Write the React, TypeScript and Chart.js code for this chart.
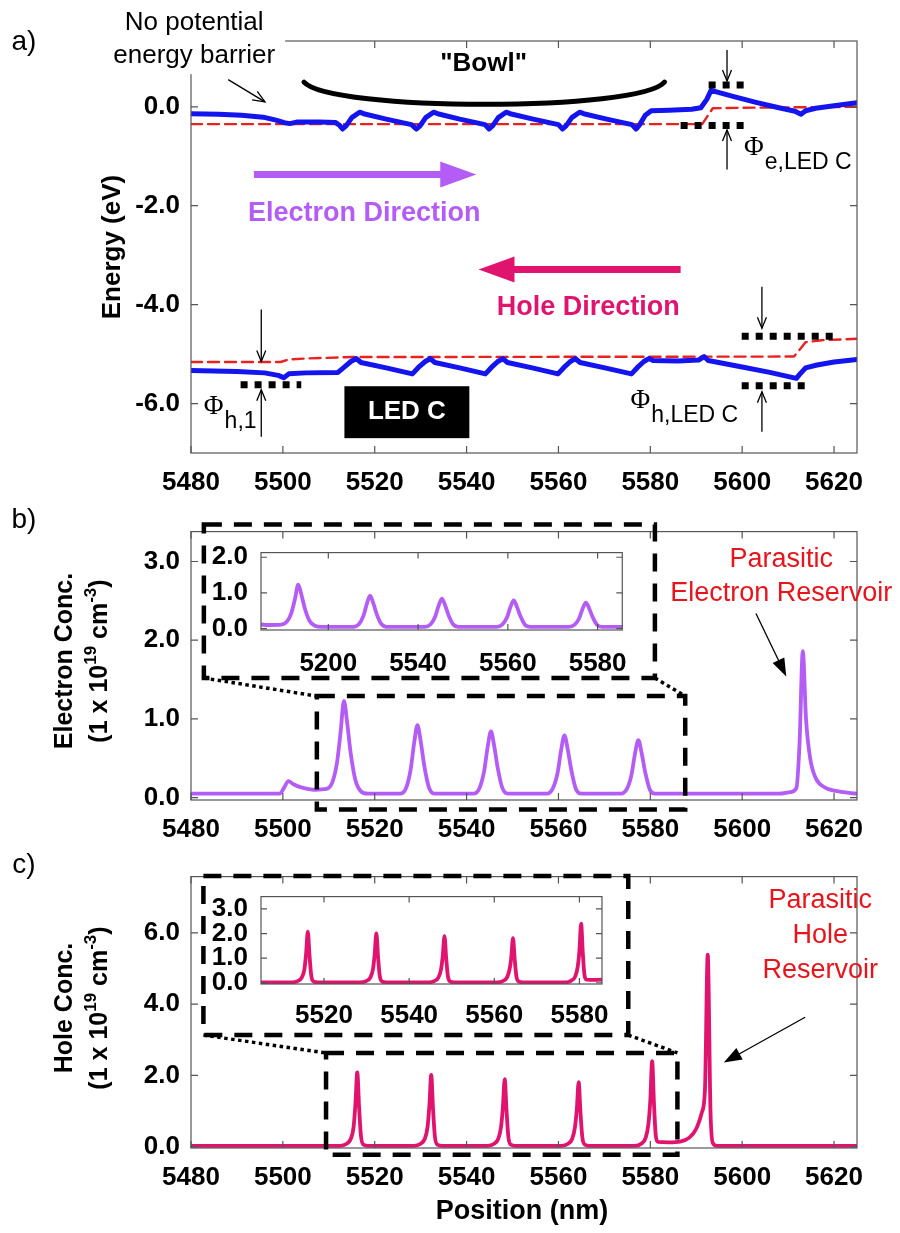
import React, { useEffect, useRef } from "react";
import { Chart, registerables } from "chart.js";

Chart.register(...registerables);

const SANS = '"Liberation Sans", Arial, Helvetica, sans-serif';
const SERIF = '"Liberation Serif", "Times New Roman", serif';

// ---------- tick values / labels ----------
const positionTicks = [5480, 5500, 5520, 5540, 5560, 5580, 5600, 5620];
const energyTicks = [0, -2, -4, -6];
const electronTicks = [0, 1, 2, 3];
const holeTicks = [0, 2, 4, 6];
const electronInsetXTicks = [5520, 5540, 5560, 5580];
const electronInsetXLabels = ["5200", "5540", "5560", "5580"];
const electronInsetYTicks = [0, 1, 2];
const holeInsetXTicks = [5520, 5540, 5560, 5580];
const holeInsetXLabels = ["5520", "5540", "5560", "5580"];
const holeInsetYTicks = [0, 1, 2, 3];

// ---------- panel a: band diagram (nm, eV) ----------
const cbPosition = [5480, 5486, 5491, 5495.7, 5498.5, 5500.3, 5501.5, 5503, 5508, 5511.5, 5512.4, 5513.0, 5513.8, 5515.0, 5516.7, 5517.6, 5522.5, 5528.0, 5529.1, 5529.9, 5531.1, 5532.8, 5533.7, 5538.5, 5544.0, 5544.9, 5545.7, 5546.9, 5548.6, 5549.5, 5554.5, 5560.0, 5560.9, 5561.7, 5562.9, 5564.6, 5565.5, 5570.5, 5576.0, 5576.9, 5577.7, 5578.9, 5580.2, 5584, 5589, 5591, 5592.3, 5593.2, 5598, 5603, 5608, 5611.5, 5612.8, 5613.8, 5616, 5620, 5625];
const cbEnergy = [-0.14, -0.15, -0.17, -0.21, -0.27, -0.32, -0.34, -0.31, -0.31, -0.32, -0.38, -0.45, -0.38, -0.22, -0.11, -0.14, -0.25, -0.36, -0.45, -0.38, -0.22, -0.11, -0.14, -0.25, -0.36, -0.45, -0.38, -0.22, -0.11, -0.14, -0.25, -0.36, -0.45, -0.38, -0.22, -0.11, -0.14, -0.25, -0.36, -0.45, -0.36, -0.17, -0.08, -0.07, -0.05, -0.02, 0.15, 0.33, 0.21, 0.09, -0.02, -0.09, -0.15, -0.08, -0.03, 0.02, 0.08];
const efnPosition = [5480, 5591.3, 5593.6, 5600, 5625];
const efnEnergy = [-0.35, -0.35, -0.03, -0.02, 0.0];
const vbPosition = [5480, 5490, 5496, 5499, 5500.2, 5501.3, 5505, 5512, 5513.3, 5514.8, 5516.0, 5517.0, 5522.5, 5528.2, 5529.5, 5531.0, 5532.1, 5533.1, 5538.5, 5544.1, 5545.4, 5546.8, 5547.9, 5548.9, 5554.3, 5559.9, 5561.2, 5562.6, 5563.7, 5564.7, 5570.1, 5575.9, 5577.2, 5578.6, 5579.7, 5580.6, 5586, 5590.5, 5591.7, 5592.6, 5600, 5606, 5611.8, 5612.6, 5613.8, 5616.3, 5620, 5625];
const vbEnergy = [-5.33, -5.35, -5.38, -5.43, -5.48, -5.40, -5.38, -5.37, -5.27, -5.15, -5.09, -5.17, -5.28, -5.40, -5.27, -5.15, -5.09, -5.17, -5.28, -5.40, -5.27, -5.15, -5.09, -5.17, -5.28, -5.40, -5.27, -5.15, -5.09, -5.17, -5.28, -5.40, -5.27, -5.15, -5.09, -5.13, -5.14, -5.12, -5.05, -5.13, -5.26, -5.37, -5.49, -5.40, -5.28, -5.22, -5.16, -5.11];
const efpPosition = [5480, 5499.5, 5501.2, 5505, 5515, 5611.3, 5613.8, 5617.3, 5625];
const efpEnergy = [-5.16, -5.16, -5.11, -5.09, -5.06, -5.05, -4.76, -4.72, -4.69];

// ---------- panel b: electron concentration (nm, 1e19 cm^-3) ----------
const electronPosition = [5480, 5499.3, 5500.3, 5501.2, 5502.3, 5504, 5507, 5509.5, 5510.8, 5511.8, 5512.6, 5513.3, 5514.0, 5514.8, 5515.8, 5517.0, 5518.5, 5525.5, 5526.8, 5527.8, 5528.6, 5529.3, 5530.0, 5530.8, 5531.8, 5533.0, 5541.5, 5542.8, 5543.8, 5544.6, 5545.3, 5546.0, 5546.8, 5547.8, 5549.0, 5557.5, 5558.8, 5559.8, 5560.6, 5561.3, 5562.0, 5562.8, 5563.8, 5565.0, 5573.6, 5574.9, 5575.9, 5576.7, 5577.4, 5578.1, 5578.9, 5579.9, 5581.0, 5608, 5610.5, 5611.8, 5612.5, 5613.2, 5613.9, 5614.8, 5616, 5618, 5621, 5625];
const electronConc = [0.05, 0.05, 0.13, 0.21, 0.17, 0.13, 0.10, 0.11, 0.2, 0.45, 0.85, 1.23, 0.95, 0.55, 0.22, 0.08, 0.05, 0.05, 0.12, 0.35, 0.7, 0.92, 0.72, 0.4, 0.13, 0.05, 0.05, 0.12, 0.33, 0.65, 0.84, 0.66, 0.37, 0.12, 0.05, 0.05, 0.12, 0.31, 0.61, 0.79, 0.62, 0.35, 0.11, 0.05, 0.05, 0.11, 0.29, 0.57, 0.73, 0.57, 0.32, 0.1, 0.05, 0.05, 0.07, 0.12, 0.7, 1.86, 1.0, 0.5, 0.25, 0.13, 0.08, 0.05];

// ---------- panel c: hole concentration (nm, 1e19 cm^-3) ----------
const holePosition = [5480, 5512.5, 5513.8, 5514.8, 5515.4, 5515.8, 5516.2, 5516.6, 5517.0, 5517.6, 5518.5, 5528.6, 5529.9, 5530.9, 5531.5, 5531.9, 5532.3, 5532.7, 5533.1, 5533.7, 5534.6, 5544.6, 5545.9, 5546.9, 5547.5, 5547.9, 5548.3, 5548.7, 5549.1, 5549.7, 5550.6, 5560.7, 5562.0, 5563.0, 5563.6, 5564.0, 5564.4, 5564.8, 5565.2, 5565.8, 5566.7, 5576.7, 5578.0, 5579.0, 5579.6, 5580.0, 5580.4, 5580.8, 5581.2, 5581.7, 5584, 5586.5, 5588.5, 5590.0, 5591.2, 5591.9, 5592.5, 5593.1, 5593.6, 5594.5, 5625];
const holeConc = [0.02, 0.02, 0.07, 0.22, 0.55, 1.2, 2.08, 1.1, 0.3, 0.05, 0.02, 0.02, 0.07, 0.22, 0.55, 1.15, 2.01, 1.05, 0.28, 0.05, 0.02, 0.02, 0.07, 0.22, 0.55, 1.1, 1.89, 1.0, 0.27, 0.05, 0.02, 0.02, 0.07, 0.22, 0.55, 1.05, 1.81, 0.95, 0.26, 0.05, 0.02, 0.02, 0.08, 0.25, 0.65, 1.3, 2.40, 1.2, 0.3, 0.13, 0.12, 0.14, 0.25, 0.5, 0.95, 1.6, 5.39, 1.0, 0.1, 0.02, 0.02];

// ---------- colours ----------
const BLUE = "#1414EE";
const RED = "#E8231F";
const PURPLE = "#B45CF6";
const PINK = "#E0146E";
const REDTEXT = "#E8141C";

const pts = (xs: number[], ys: number[]) => xs.map((x, i) => ({ x, y: ys[i] }));

// canvas placements (page px)
const A_TOP = 0, B_TOP = 505, C_TOP = 850;

function txt(ctx: CanvasRenderingContext2D, s: string, x: number, y: number, o: any = {}) {
  ctx.save();
  ctx.font = `${o.weight || "normal"} ${o.size || 27}px ${o.family || SANS}`;
  ctx.fillStyle = o.color || "#000";
  ctx.textAlign = o.align || "center";
  ctx.textBaseline = o.baseline || "middle";
  ctx.fillText(s, x, y);
  ctx.restore();
}

function arrow(ctx: CanvasRenderingContext2D, x1: number, y1: number, x2: number, y2: number, o: any = {}) {
  const w = o.width ?? 1.3, head = o.head ?? 12, half = o.half ?? 5, color = o.color || "#000";
  const ang = Math.atan2(y2 - y1, x2 - x1);
  const c = Math.cos(ang), s = Math.sin(ang);
  const bx = x2 - head * c, by = y2 - head * s;
  ctx.save();
  ctx.strokeStyle = color; ctx.fillStyle = color; ctx.lineWidth = w; ctx.setLineDash([]);
  ctx.beginPath();
  ctx.moveTo(x1, y1);
  if (o.filled) ctx.lineTo(bx + 2 * c, by + 2 * s); else ctx.lineTo(x2, y2);
  ctx.stroke();
  ctx.beginPath();
  ctx.moveTo(bx - half * s, by + half * c);
  ctx.lineTo(x2, y2);
  ctx.lineTo(bx + half * s, by - half * c);
  if (o.filled) { ctx.closePath(); ctx.fill(); } else ctx.stroke();
  ctx.restore();
}

function dots(ctx: CanvasRenderingContext2D, x1: number, x2: number, y: number) {
  ctx.save();
  ctx.strokeStyle = "#000"; ctx.lineWidth = 7; ctx.lineCap = "butt"; ctx.setLineDash([7, 7]);
  ctx.beginPath(); ctx.moveTo(x1, y); ctx.lineTo(x2, y); ctx.stroke();
  ctx.restore();
}

function phi(ctx: CanvasRenderingContext2D, x: number, y: number, sub: string) {
  ctx.save();
  ctx.font = `normal 27px ${SERIF}`;
  const w = ctx.measureText("Φ").width;
  ctx.restore();
  txt(ctx, "Φ", x, y, { family: SERIF, size: 27, align: "left" });
  txt(ctx, sub, x + w + 1, y + 15, { size: 23, align: "left" });
}

function dashedRect(ctx: CanvasRenderingContext2D, x1: number, y1: number, x2: number, y2: number) {
  ctx.save();
  ctx.strokeStyle = "#000"; ctx.lineWidth = 4.5; ctx.setLineDash([18, 12]);
  ctx.strokeRect(x1, y1, x2 - x1, y2 - y1);
  ctx.restore();
}

function dotted(ctx: CanvasRenderingContext2D, x1: number, y1: number, x2: number, y2: number) {
  ctx.save();
  ctx.strokeStyle = "#000"; ctx.lineWidth = 3.5; ctx.setLineDash([3.5, 3.5]);
  ctx.beginPath(); ctx.moveTo(x1, y1); ctx.lineTo(x2, y2); ctx.stroke();
  ctx.restore();
}

function richRotated(ctx: CanvasRenderingContext2D, cx: number, cy: number, parts: [string, boolean][], size: number) {
  const supSize = Math.round(size * 0.68);
  ctx.save();
  ctx.translate(cx, cy);
  ctx.rotate(-Math.PI / 2);
  let total = 0;
  const widths = parts.map(([s, sup]) => {
    ctx.font = `bold ${sup ? supSize : size}px ${SANS}`;
    const w = ctx.measureText(s).width;
    total += w;
    return w;
  });
  let x = -total / 2;
  ctx.fillStyle = "#000";
  ctx.textBaseline = "middle";
  ctx.textAlign = "left";
  parts.forEach(([s, sup], i) => {
    ctx.font = `bold ${sup ? supSize : size}px ${SANS}`;
    ctx.fillText(s, x, sup ? -size * 0.35 : 0);
    x += widths[i];
  });
  ctx.restore();
}

function drawFrame(chart: any, xTicks: number[], yTicks: number[], len: number) {
  const { ctx, chartArea: a, scales } = chart;
  ctx.save();
  ctx.strokeStyle = "#555"; ctx.lineWidth = 1.2; ctx.setLineDash([]);
  ctx.strokeRect(a.left, a.top, a.right - a.left, a.bottom - a.top);
  ctx.beginPath();
  for (const v of xTicks) {
    const x = scales.x.getPixelForValue(v);
    ctx.moveTo(x, a.bottom); ctx.lineTo(x, a.bottom - len);
    ctx.moveTo(x, a.top); ctx.lineTo(x, a.top + len);
  }
  for (const v of yTicks) {
    const y = scales.y.getPixelForValue(v);
    ctx.moveTo(a.left, y); ctx.lineTo(a.left + len, y);
    ctx.moveTo(a.right, y); ctx.lineTo(a.right - len, y);
  }
  ctx.stroke();
  ctx.restore();
}

function makeConfig(p: any) {
  const tickFont = { family: SANS, size: p.fontSize, weight: "bold" as const };
  return {
    type: "line",
    data: { datasets: p.datasets },
    options: {
      animation: false,
      responsive: false,
      maintainAspectRatio: false,
      events: [],
      layout: { padding: { top: p.padTop, right: p.padRight, left: 0, bottom: 0 } },
      plugins: { legend: { display: false }, tooltip: { enabled: false }, title: { display: false } },
      elements: { point: { radius: 0 } },
      scales: {
        x: {
          type: "linear", min: p.xMin, max: p.xMax,
          grid: { display: false, drawTicks: false }, border: { display: false },
          afterBuildTicks: (s: any) => { s.ticks = p.xTicks.map((v: number) => ({ value: v })); },
          afterFit: (s: any) => { s.height = p.xHeight; },
          ticks: {
            autoSkip: false, maxRotation: 0, minRotation: 0, color: "#000", font: tickFont, padding: p.xPad,
            callback: (v: any, i: number) => (p.xLabels ? p.xLabels[i] : String(v)),
          },
        },
        y: {
          type: "linear", min: p.yMin, max: p.yMax,
          grid: { display: false, drawTicks: false }, border: { display: false },
          afterBuildTicks: (s: any) => { s.ticks = p.yTicks.map((v: number) => ({ value: v })); },
          afterFit: (s: any) => { s.width = p.yWidth; },
          ticks: {
            autoSkip: false, color: "#000", font: tickFont, padding: p.yPad,
            callback: (v: any) => Number(v).toFixed(1),
          },
        },
      },
    },
    plugins: [
      {
        id: "deco",
        beforeDraw(chart: any) {
          if (p.fillArea) {
            const a = chart.chartArea;
            chart.ctx.save();
            chart.ctx.fillStyle = "#fff";
            chart.ctx.fillRect(a.left, a.top, a.right - a.left, a.bottom - a.top);
            chart.ctx.restore();
          }
        },
        afterDraw(chart: any) {
          drawFrame(chart, p.xTicks, p.yTicks, p.tickLen);
          if (p.decorate) p.decorate(chart);
        },
      },
    ],
  } as any;
}

function line(data: any[], color: string, width: number, dash?: number[], smooth = true) {
  return {
    data, borderColor: color, borderWidth: width, borderDash: dash || [],
    pointRadius: 0, fill: false, borderCapStyle: "round", borderJoinStyle: "round",
    ...(smooth ? { cubicInterpolationMode: "monotone" } : { tension: 0 }),
  };
}

// ---------- panel a decoration ----------
function decorateA(chart: any) {
  const { ctx } = chart;
  const X = (v: number) => chart.scales.x.getPixelForValue(v);
  const Y = (v: number) => chart.scales.y.getPixelForValue(v);
  ctx.save();
  ctx.fillStyle = "#fff";
  ctx.fillRect(X(5462), Y(2.1), X(5500.5) - X(5462), Y(0.66) - Y(2.1));
  ctx.restore();
  txt(ctx, "No potential", X(5480.7), Y(1.70), { size: 26 });
  txt(ctx, "energy barrier", X(5480.7), Y(1.03), { size: 26 });
  arrow(ctx, X(5488.1), Y(0.55), X(5496.1), Y(0.1), { width: 1.3, head: 12, half: 5 });

  txt(ctx, "\"Bowl\"", X(5543.7), Y(0.86), { size: 26, weight: "bold" });
  ctx.save();
  ctx.strokeStyle = "#000"; ctx.lineWidth = 5; ctx.lineCap = "round";
  ctx.beginPath();
  ctx.moveTo(X(5504.6), Y(0.5));
  ctx.bezierCurveTo(X(5510.3), Y(-0.1), X(5577.9), Y(-0.1), X(5583.1), Y(0.5));
  ctx.stroke();
  ctx.restore();

  arrow(ctx, X(5493.7), Y(-1.37), X(5542.1), Y(-1.37), { width: 7, head: 36, half: 13, color: PURPLE, filled: true });
  txt(ctx, "Electron Direction", X(5517.7), Y(-2.16), { size: 27, weight: "bold", color: PURPLE });
  arrow(ctx, X(5586.6), Y(-3.29), X(5542.6), Y(-3.29), { width: 7, head: 36, half: 13, color: PINK, filled: true });
  txt(ctx, "Hole Direction", X(5566.5), Y(-4.06), { size: 27, weight: "bold", color: PINK });

  dots(ctx, X(5592.7), X(5600.4), Y(0.44));
  dots(ctx, X(5586.6), X(5600.4), Y(-0.38));
  arrow(ctx, X(5596.7), Y(1.15), X(5596.7), Y(0.52), { head: 11, half: 4.5 });
  arrow(ctx, X(5596.7), Y(-1.27), X(5596.7), Y(-0.47), { head: 11, half: 4.5 });
  phi(ctx, X(5600.4), Y(-0.83), "e,LED C");

  dots(ctx, X(5490.8), X(5504.0), Y(-5.62));
  arrow(ctx, X(5495.3), Y(-4.1), X(5495.3), Y(-5.15), { head: 11, half: 4.5 });
  arrow(ctx, X(5495.3), Y(-6.67), X(5495.3), Y(-5.72), { head: 11, half: 4.5 });
  phi(ctx, X(5482.8), Y(-6.06), "h,1");

  dots(ctx, X(5599.9), X(5619.9), Y(-4.64));
  dots(ctx, X(5599.9), X(5613.8), Y(-5.64));
  arrow(ctx, X(5604.3), Y(-3.64), X(5604.3), Y(-4.48), { head: 11, half: 4.5 });
  arrow(ctx, X(5604.3), Y(-6.57), X(5604.3), Y(-5.76), { head: 11, half: 4.5 });
  phi(ctx, X(5575.7), Y(-5.94), "h,LED C");

  ctx.save();
  ctx.fillStyle = "#000";
  ctx.fillRect(X(5513.4), Y(-5.65), X(5540.6) - X(5513.4), Y(-6.7) - Y(-5.65));
  ctx.restore();
  txt(ctx, "LED C", X(5527), Y(-6.17), { size: 26, weight: "bold", color: "#fff" });

  txt(ctx, "a)", 24, 42 - A_TOP, { size: 28 });
  richRotated(ctx, 113, 247 - A_TOP, [["Energy (eV)", false]], 26);
}

function decorateB(chart: any) {
  const { ctx } = chart;
  const X = (v: number) => chart.scales.x.getPixelForValue(v);
  const Y = (v: number) => chart.scales.y.getPixelForValue(v);
  txt(ctx, "Parasitic", X(5608.5), Y(3.02), { size: 27, color: REDTEXT });
  txt(ctx, "Electron Reservoir", X(5608.5), Y(2.59), { size: 27, color: REDTEXT });
  arrow(ctx, X(5603), Y(2.34), X(5609.6), Y(1.54), { width: 1.3, head: 18, half: 6.5, filled: true });
  dashedRect(ctx, X(5482.8), Y(3.47), X(5581), Y(1.52));
  dashedRect(ctx, X(5507.4), Y(1.29), X(5587.6), Y(-0.15));
  dotted(ctx, X(5482.8), Y(1.52), X(5507.4), Y(1.29));
  dotted(ctx, X(5581), Y(1.52), X(5587.6), Y(1.29));
  txt(ctx, "b)", 24, 520 - B_TOP, { size: 28 });
  richRotated(ctx, 65, 661 - B_TOP, [["Electron Conc.", false]], 25);
  richRotated(ctx, 100, 661 - B_TOP, [["(1 x 10", false], ["19", true], [" cm", false], ["-3", true], [")", false]], 25);
}

function decorateC(chart: any) {
  const { ctx } = chart;
  const X = (v: number) => chart.scales.x.getPixelForValue(v);
  const Y = (v: number) => chart.scales.y.getPixelForValue(v);
  txt(ctx, "Parasitic", X(5617), Y(6.9), { size: 27, color: REDTEXT });
  txt(ctx, "Hole", X(5617), Y(5.93), { size: 27, color: REDTEXT });
  txt(ctx, "Reservoir", X(5617), Y(4.95), { size: 27, color: REDTEXT });
  arrow(ctx, X(5613.7), Y(3.63), X(5596.0), Y(2.36), { width: 1.3, head: 18, half: 6.5, filled: true });
  dashedRect(ctx, X(5482.7), Y(7.6), X(5575.2), Y(3.13));
  dashedRect(ctx, X(5509.4), Y(2.63), X(5585.9), Y(-0.23));
  dotted(ctx, X(5482.7), Y(3.13), X(5509.4), Y(2.63));
  dotted(ctx, X(5575.2), Y(3.13), X(5585.9), Y(2.63));
  txt(ctx, "c)", 24, 865 - C_TOP, { size: 28 });
  richRotated(ctx, 65, 1008 - C_TOP, [["Hole Conc.", false]], 25);
  richRotated(ctx, 100, 1008 - C_TOP, [["(1 x 10", false], ["19", true], [" cm", false], ["-3", true], [")", false]], 25);
  txt(ctx, "Position (nm)", 522, 1212 - C_TOP, { size: 27, weight: "bold" });
}

export default function App() {
  const aRef = useRef<HTMLCanvasElement>(null);
  const bRef = useRef<HTMLCanvasElement>(null);
  const cRef = useRef<HTMLCanvasElement>(null);
  const biRef = useRef<HTMLCanvasElement>(null);
  const ciRef = useRef<HTMLCanvasElement>(null);

  useEffect(() => {
    const charts: Chart[] = [];
    const common = { xMin: 5480, xMax: 5625, xTicks: positionTicks, yWidth: 191, padRight: 43, fontSize: 26, xPad: 14, yPad: 11, tickLen: 7 };
    charts.push(new Chart(aRef.current as any, makeConfig({
      ...common, yMin: -7, yMax: 1.33, yTicks: energyTicks, padTop: 41, xHeight: 52,
      datasets: [
        line(pts(cbPosition, cbEnergy), BLUE, 5, [], false),
        line(pts(vbPosition, vbEnergy), BLUE, 5, [], false),
        line(pts(efnPosition, efnEnergy), RED, 2.4, [11, 6], false),
        line(pts(efpPosition, efpEnergy), RED, 2.4, [11, 6], false),
      ],
      decorate: decorateA,
    })));
    charts.push(new Chart(bRef.current as any, makeConfig({
      ...common, yMin: -0.03, yMax: 3.38, yTicks: electronTicks, padTop: 17, xHeight: 50,
      datasets: [line(pts(electronPosition, electronConc), PURPLE, 3.8)],
      decorate: decorateB,
    })));
    charts.push(new Chart(cRef.current as any, makeConfig({
      ...common, yMin: -0.04, yMax: 7.58, yTicks: holeTicks, padTop: 18, xHeight: 85,
      datasets: [line(pts(holePosition, holeConc), PINK, 3.8)],
      decorate: decorateC,
    })));
    charts.push(new Chart(biRef.current as any, makeConfig({
      xMin: 5505, xMax: 5585.5, xTicks: electronInsetXTicks, xLabels: electronInsetXLabels,
      yMin: -0.04, yMax: 2.13, yTicks: electronInsetYTicks, yWidth: 66, padRight: 7, padTop: 5, xHeight: 50,
      fontSize: 26, xPad: 18, yPad: 13, tickLen: 6, fillArea: true,
      datasets: [line(pts(electronPosition, electronConc), PURPLE, 3.8)],
    })));
    charts.push(new Chart(ciRef.current as any, makeConfig({
      xMin: 5505.2, xMax: 5585.3, xTicks: holeInsetXTicks, xLabels: holeInsetXLabels,
      yMin: -0.05, yMax: 3.5, yTicks: holeInsetYTicks, yWidth: 66, padRight: 10, padTop: 5, xHeight: 44,
      fontSize: 26, xPad: 16, yPad: 13, tickLen: 6, fillArea: true,
      datasets: [line(pts(holePosition, holeConc), PINK, 3.8)],
    })));
    return () => charts.forEach((c) => c.destroy());
  }, []);

  const abs = (left: number, top: number): React.CSSProperties => ({ position: "absolute", left, top });
  return (
    <div style={{ position: "absolute", left: 0, top: 0, width: 900, height: 1233, background: "#fff", overflow: "hidden" }}>
      <canvas ref={aRef} width={900} height={505} style={abs(0, A_TOP)} />
      <canvas ref={bRef} width={900} height={345} style={abs(0, B_TOP)} />
      <canvas ref={cRef} width={900} height={383} style={abs(0, C_TOP)} />
      <canvas ref={biRef} width={450} height={156} style={abs(195, 524)} />
      <canvas ref={ciRef} width={430} height={160} style={abs(195, 868)} />
    </div>
  );
}
